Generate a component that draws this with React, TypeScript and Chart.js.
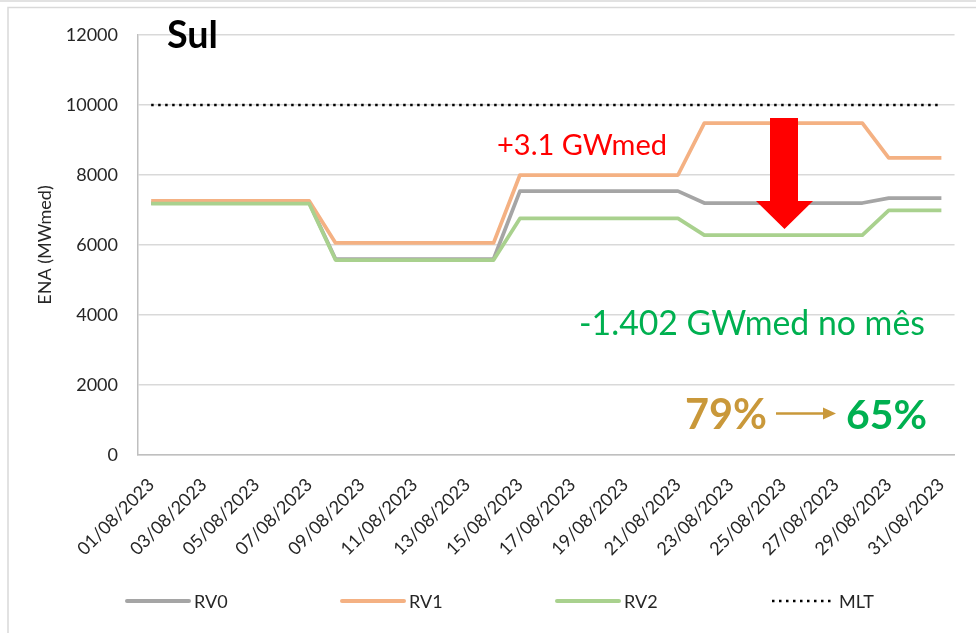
import { useEffect, useRef } from "react";
import { Chart, registerables } from "chart.js";

Chart.register(...registerables);

const dates = [
  "01/08/2023", "02/08/2023", "03/08/2023", "04/08/2023", "05/08/2023", "06/08/2023", "07/08/2023",
  "08/08/2023", "09/08/2023", "10/08/2023", "11/08/2023", "12/08/2023", "13/08/2023", "14/08/2023",
  "15/08/2023", "16/08/2023", "17/08/2023", "18/08/2023", "19/08/2023", "20/08/2023", "21/08/2023",
  "22/08/2023", "23/08/2023", "24/08/2023", "25/08/2023", "26/08/2023", "27/08/2023", "28/08/2023",
  "29/08/2023", "30/08/2023", "31/08/2023",
];

const rv0 = [
  7200, 7200, 7200, 7200, 7200, 7200, 7200,
  5600, 5600, 5600, 5600, 5600, 5600, 5600,
  7540, 7540, 7540, 7540, 7540, 7540, 7540,
  7200, 7200, 7200, 7200, 7200, 7200, 7200,
  7340, 7340, 7340,
];

const rv1 = [
  7260, 7260, 7260, 7260, 7260, 7260, 7260,
  6060, 6060, 6060, 6060, 6060, 6060, 6060,
  8000, 8000, 8000, 8000, 8000, 8000, 8000,
  9480, 9480, 9480, 9480, 9480, 9480, 9480,
  8490, 8490, 8490,
];

const rv2 = [
  7180, 7180, 7180, 7180, 7180, 7180, 7180,
  5570, 5570, 5570, 5570, 5570, 5570, 5570,
  6760, 6760, 6760, 6760, 6760, 6760, 6760,
  6280, 6280, 6280, 6280, 6280, 6280, 6280,
  6990, 6990, 6990,
];

const mlt = [
  10000, 10000, 10000, 10000, 10000, 10000, 10000,
  10000, 10000, 10000, 10000, 10000, 10000, 10000,
  10000, 10000, 10000, 10000, 10000, 10000, 10000,
  10000, 10000, 10000, 10000, 10000, 10000, 10000,
  10000, 10000, 10000,
];

const seriesNames = ["RV0", "RV1", "RV2", "MLT"];
const seriesColors = ["#a5a5a5", "#f4b183", "#a9d18e", "#000000"];

const yTitle = "ENA (MWmed)";
const panelTitle = "Sul";
const deltaText = "+3.1 GWmed";
const monthText = "-1.402 GWmed no mês";
const pctBefore = "79%";
const pctAfter = "65%";

const FONT = "Lato, 'Open Sans', sans-serif";
const TEXT_COLOR = "#262626";

function fitText(
  ctx: CanvasRenderingContext2D,
  text: string,
  x: number,
  baseline: number,
  width: number,
  weight: string,
  color: string
) {
  ctx.save();
  ctx.font = `${weight} 100px ${FONT}`;
  const w = ctx.measureText(text).width;
  const size = (100 * width) / w;
  ctx.font = `${weight} ${size}px ${FONT}`;
  ctx.fillStyle = color;
  ctx.textAlign = "left";
  ctx.textBaseline = "alphabetic";
  ctx.fillText(text, x, baseline);
  ctx.restore();
}

const framePlugin = {
  id: "frame",
  beforeDraw(chart: any) {
    const ctx = chart.ctx as CanvasRenderingContext2D;
    ctx.save();
    ctx.fillStyle = "#ffffff";
    ctx.fillRect(0, 0, chart.width, chart.height);
    ctx.strokeStyle = "#d9d9d9";
    ctx.lineWidth = 1.5;
    ctx.beginPath();
    ctx.moveTo(0, 1);
    ctx.lineTo(chart.width, 1);
    ctx.moveTo(8, chart.height + 5);
    ctx.lineTo(8, 7.5);
    ctx.lineTo(chart.width + 5, 7.5);
    ctx.stroke();
    ctx.restore();
  },
  afterDraw(chart: any) {
    const ctx = chart.ctx as CanvasRenderingContext2D;
    // panel title
    fitText(ctx, panelTitle, 167, 48, 51, "bold", "#000000");
    // red delta text
    fitText(ctx, deltaText, 497, 155, 170, "normal", "#ff0000");
    // red arrow
    ctx.save();
    ctx.fillStyle = "#ff0000";
    ctx.beginPath();
    ctx.moveTo(770, 118);
    ctx.lineTo(798, 118);
    ctx.lineTo(798, 201);
    ctx.lineTo(813, 201);
    ctx.lineTo(784.5, 229);
    ctx.lineTo(756, 201);
    ctx.lineTo(770, 201);
    ctx.closePath();
    ctx.fill();
    ctx.restore();
    // month text
    fitText(ctx, monthText, 579, 335, 346, "normal", "#00b050");
    // percentages
    fitText(ctx, pctBefore, 685, 429, 82, "bold", "#c9983a");
    fitText(ctx, pctAfter, 846, 429, 81, "bold", "#00b050");
    ctx.save();
    ctx.strokeStyle = "#c9983a";
    ctx.fillStyle = "#c9983a";
    ctx.lineWidth = 2.5;
    ctx.beginPath();
    ctx.moveTo(776, 413.5);
    ctx.lineTo(826, 413.5);
    ctx.stroke();
    ctx.beginPath();
    ctx.moveTo(823, 407.5);
    ctx.lineTo(836, 413.5);
    ctx.lineTo(823, 419.5);
    ctx.closePath();
    ctx.fill();
    ctx.restore();

    // legend
    const datasets = chart.data.datasets;
    const startX = 127;
    const step = 215;
    const lineLen = 62;
    const ly = 601;
    ctx.save();
    ctx.font = `normal 18px ${FONT}`;
    ctx.textBaseline = "middle";
    ctx.textAlign = "left";
    datasets.forEach((ds: any, i: number) => {
      const x0 = startX + i * step;
      ctx.strokeStyle = ds.borderColor;
      if (ds.borderDash && ds.borderDash.length) {
        ctx.lineWidth = 2.5;
        ctx.lineCap = "butt";
        ctx.setLineDash(ds.borderDash);
      } else {
        ctx.lineWidth = 4;
        ctx.lineCap = "round";
        ctx.setLineDash([]);
      }
      ctx.beginPath();
      ctx.moveTo(x0, ly);
      ctx.lineTo(x0 + lineLen, ly);
      ctx.stroke();
      ctx.setLineDash([]);
      ctx.fillStyle = TEXT_COLOR;
      ctx.fillText(ds.label, x0 + lineLen + 5, ly + 1);
    });
    ctx.restore();
  },
};

export default function App() {
  const canvasRef = useRef<HTMLCanvasElement | null>(null);

  useEffect(() => {
    const canvas = canvasRef.current;
    if (!canvas) return;
    const tickFont = { family: FONT, size: 18 };
    const chart = new Chart(canvas, {
      type: "line",
      data: {
        labels: dates,
        datasets: [
          {
            label: seriesNames[0],
            data: rv0,
            borderColor: seriesColors[0],
            backgroundColor: seriesColors[0],
            borderWidth: 3.75,
            order: 3,
          },
          {
            label: seriesNames[1],
            data: rv1,
            borderColor: seriesColors[1],
            backgroundColor: seriesColors[1],
            borderWidth: 3.75,
            order: 2,
          },
          {
            label: seriesNames[2],
            data: rv2,
            borderColor: seriesColors[2],
            backgroundColor: seriesColors[2],
            borderWidth: 3.75,
            order: 1,
          },
          {
            label: seriesNames[3],
            data: mlt,
            borderColor: seriesColors[3],
            backgroundColor: seriesColors[3],
            borderWidth: 2.5,
            borderDash: [2.5, 4.5],
            order: 0,
          },
        ],
      },
      options: {
        responsive: false,
        animation: false,
        layout: { padding: { left: 34, right: 21, top: 35, bottom: 0 } },
        elements: {
          point: { radius: 0, hoverRadius: 0 },
          line: { tension: 0, borderJoinStyle: "round" },
        },
        plugins: {
          legend: { display: false },
          tooltip: { enabled: false },
        },
        scales: {
          x: {
            offset: true,
            grid: { display: false, drawTicks: false },
            border: { display: true, color: "#bfbfbf", width: 1.5 },
            ticks: {
              autoSkip: false,
              maxRotation: 45,
              minRotation: 45,
              padding: 19,
              color: TEXT_COLOR,
              font: tickFont,
              callback: (_v: any, i: number) => (i % 2 === 0 ? dates[i] : ""),
            },
            afterFit: (s: any) => {
              s.height = 178;
            },
          },
          y: {
            min: 0,
            max: 12000,
            ticks: {
              stepSize: 2000,
              padding: 20,
              color: TEXT_COLOR,
              font: tickFont,
              callback: (v: any) => String(v),
            },
            grid: { color: "#d9d9d9", lineWidth: 1.5, drawTicks: false },
            border: { display: true, color: "#bfbfbf", width: 1.5 },
            title: {
              display: true,
              text: yTitle,
              color: TEXT_COLOR,
              font: { family: FONT, size: 18 },
              padding: { top: 0, bottom: 0 },
            },
            afterFit: (s: any) => {
              s.width = 104;
            },
          },
        },
      },
      plugins: [framePlugin],
    });
    return () => chart.destroy();
  }, []);

  return (
    <div style={{ position: "absolute", left: 0, top: 0, width: 976, height: 633, background: "#fff" }}>
      <canvas ref={canvasRef} width={976} height={633} style={{ display: "block" }} />
    </div>
  );
}
